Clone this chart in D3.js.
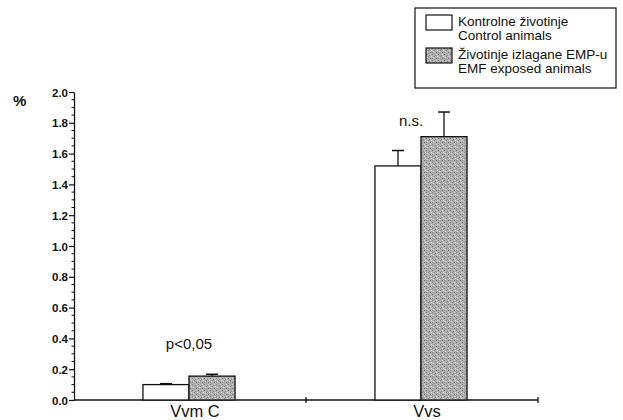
<!DOCTYPE html>
<html><head><meta charset="utf-8">
<script src="https://cdn.jsdelivr.net/npm/d3@7"></script>
<style>body{margin:0;background:#fff}svg{display:block}text{font-family:"Liberation Sans",Arial,sans-serif;fill:#111}</style>
</head><body>
<svg id="c" width="623" height="420"></svg>
<script>
const categories = ["Vvm C", "Vvs"];
const seriesNames = [["Kontrolne životinje", "Control animals"], ["Životinje izlagane EMP-u", "EMF exposed animals"]];
const control = [0.10, 1.52];
const controlErr = [0.006, 0.10];
const exposed = [0.155, 1.71];
const exposedErr = [0.012, 0.16];
const significance = ["p<0,05", "n.s."];
const yTicks = [0, 0.2, 0.4, 0.6, 0.8, 1.0, 1.2, 1.4, 1.6, 1.8, 2.0];

const svg = d3.select("#c");
const defs = svg.append("defs");
const pat = defs.append("pattern").attr("id", "stip").attr("patternUnits", "userSpaceOnUse").attr("width", 6).attr("height", 6);
pat.append("rect").attr("width", 6).attr("height", 6).attr("fill", "#b0b0b0");
const dots = [[0,0,"#777"],[3,1,"#888"],[1,3,"#d8d8d8"],[4,4,"#6e6e6e"],[2,5,"#999"],[5,2,"#e0e0e0"],[0,4,"#8c8c8c"],[4,0,"#cfcfcf"],[2,2,"#848484"]];
dots.forEach(d => pat.append("rect").attr("x", d[0]).attr("y", d[1]).attr("width", 1).attr("height", 1).attr("fill", d[2]));

const x0 = 74, x1 = 538, yTop = 92, yBot = 400;
const y = d3.scaleLinear().domain([0, 2]).range([yBot, yTop]);
const xb = d3.scaleBand().domain(categories).range([x0, x1]).paddingInner(0).paddingOuter(0);
const xs = d3.scaleBand().domain([0, 1]).range([-1, xb.bandwidth() - 1]).paddingInner(0).paddingOuter(1.52);

// y axis
const yAxis = d3.axisLeft(y).tickValues(yTicks).tickFormat(d3.format(".1f")).tickSize(5).tickSizeOuter(0);
const ga = svg.append("g").attr("transform", `translate(${x0},0)`).call(yAxis);
ga.select(".domain").attr("stroke", "#111").attr("stroke-width", 1.3);
ga.selectAll(".tick line").attr("stroke", "#111").attr("stroke-width", 1.2);
ga.selectAll(".tick text").attr("font-size", 11.5).attr("font-weight", "bold").attr("fill", "#222").attr("x", -6).attr("dy", "0.35em");
const minor = d3.range(0, 2.0001, 0.05).filter(v => Math.abs(v * 5 - Math.round(v * 5)) > 1e-6);
svg.append("g").selectAll("line").data(minor).join("line")
  .attr("x1", x0 - 2.5).attr("x2", x0).attr("y1", d => y(d)).attr("y2", d => y(d)).attr("stroke", "#111").attr("stroke-width", 1);

svg.append("text").attr("x", 13).attr("y", yTop + 14).attr("font-size", 15).attr("font-weight", "bold").text("%");

// x axis
svg.append("line").attr("x1", x0).attr("x2", x1).attr("y1", yBot).attr("y2", yBot).attr("stroke", "#111").attr("stroke-width", 1.3);
[xb(categories[1]), x1].forEach(t => svg.append("line").attr("x1", t).attr("x2", t).attr("y1", yBot - 3).attr("y2", yBot + 3).attr("stroke", "#111").attr("stroke-width", 1.3));
svg.append("g").selectAll("text").data(categories).join("text")
  .attr("x", d => xb(d) + xb.bandwidth() / 2 + 5).attr("y", 417).attr("text-anchor", "middle").attr("font-size", 16.5).text(d => d);

// bars
const series = [
  {vals: control, err: controlErr, fill: "#fff"},
  {vals: exposed, err: exposedErr, fill: "url(#stip)"}
];
series.forEach((s, si) => {
  const g = svg.append("g");
  categories.forEach((c, ci) => {
    const bx = xb(c) + xs(si), bw = xs.bandwidth();
    const cx = bx + bw / 2;
    g.append("line").attr("x1", cx).attr("x2", cx).attr("y1", y(s.vals[ci])).attr("y2", y(s.vals[ci] + s.err[ci])).attr("stroke", "#111").attr("stroke-width", 1.3);
    g.append("line").attr("x1", cx - 6).attr("x2", cx + 6).attr("y1", y(s.vals[ci] + s.err[ci])).attr("y2", y(s.vals[ci] + s.err[ci])).attr("stroke", "#111").attr("stroke-width", 1.5);
    g.append("rect").attr("x", bx).attr("y", y(s.vals[ci])).attr("width", bw).attr("height", y(0) - y(s.vals[ci]))
      .attr("fill", s.fill).attr("stroke", "#111").attr("stroke-width", 1.3);
  });
});

// significance
svg.append("text").attr("x", xb(categories[0]) + xb.bandwidth() / 2 - 1).attr("y", y(0.33)).attr("text-anchor", "middle").attr("font-size", 15).text(significance[0]);
svg.append("text").attr("x", xb(categories[1]) + xs(1) - 10).attr("y", y(1.78)).attr("text-anchor", "middle").attr("font-size", 15).text(significance[1]);

// legend
const lg = svg.append("g");
lg.append("rect").attr("x", 415).attr("y", 8).attr("width", 201).attr("height", 80).attr("fill", "#fff").attr("stroke", "#111").attr("stroke-width", 1.2);
[0, 1].forEach(i => {
  const yy = 15 + i * 33;
  lg.append("rect").attr("x", 426).attr("y", yy).attr("width", 26).attr("height", 15).attr("fill", i ? "url(#stip)" : "#fff").attr("stroke", "#111").attr("stroke-width", 1.2);
  lg.append("text").attr("x", 458).attr("y", yy + 11).attr("font-size", 13.5).text(seriesNames[i][0]);
  lg.append("text").attr("x", 458).attr("y", yy + 25).attr("font-size", 13.5).text(seriesNames[i][1]);
});
</script>
</body></html>
